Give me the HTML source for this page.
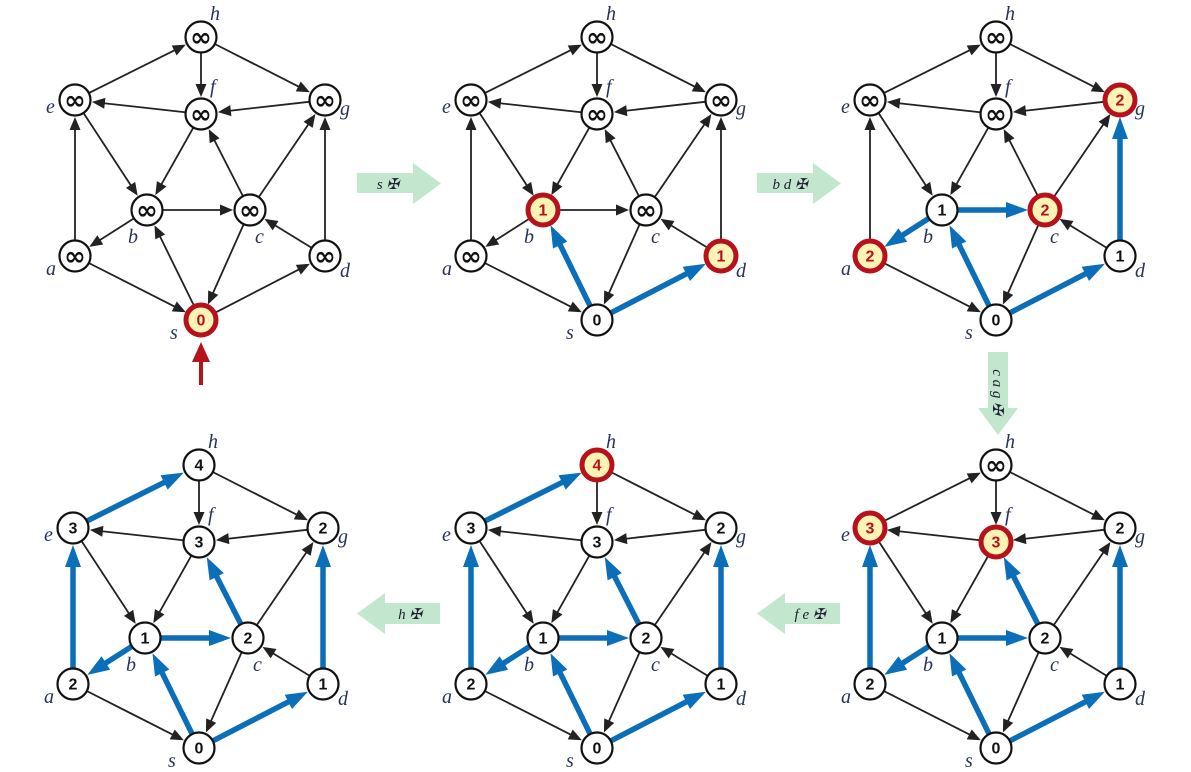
<!DOCTYPE html>
<html><head><meta charset="utf-8"><style>
body{margin:0;background:#fff}
svg{display:block}
.lbl{font-family:"Liberation Serif",serif;font-style:italic;font-size:20px;fill:#28345a}
.val{font-family:"Liberation Sans",sans-serif;font-weight:bold;text-anchor:middle;dominant-baseline:central}
.gl{font-family:"Liberation Serif","DejaVu Serif",serif;font-style:italic;font-size:15px;fill:#223}
</style></head><body>
<svg id="s" width="1191" height="772" viewBox="0 0 1191 772" xmlns="http://www.w3.org/2000/svg">
<polygon points="357,173 413,173 413,163 441,183.5 413,204 413,193 357,193" fill="#c3e6cf"/>
<text class="gl" x="388" y="189" text-anchor="middle">s ✠</text>
<polygon points="757,173 813,173 813,163 841,183.5 813,204 813,193 757,193" fill="#c3e6cf"/>
<text class="gl" x="790" y="189" text-anchor="middle">b d ✠</text>
<polygon points="988,352 1008,352 1008,408 1018,408 998,435 978,408 988,408" fill="#c3e6cf"/>
<text class="gl" transform="translate(993,392) rotate(90)" text-anchor="middle">c a g ✠</text>
<polygon points="840,603 785,603 785,593 757,613.5 785,634 785,624 840,624" fill="#c3e6cf"/>
<text class="gl" x="810" y="619" text-anchor="middle">f e ✠</text>
<polygon points="440,603 385,603 385,593 357,613.5 385,634 385,624 440,624" fill="#c3e6cf"/>
<text class="gl" x="410" y="619" text-anchor="middle">h ✠</text>
<line x1="201" y1="385" x2="201" y2="360" stroke="#b5121b" stroke-width="4"/>
<polygon points="192,362 210,362 201,342" fill="#b5121b"/>
<g id="g"></g>
</svg>
<script>
var NS="http://www.w3.org/2000/svg",G=document.getElementById('g');
function el(t,a,txt){var e=document.createElementNS(NS,t);for(var k in a)e.setAttribute(k,a[k]);if(txt!==undefined)e.textContent=txt;G.appendChild(e);return e;}
var P={h:[0,-283],e:[-126,-220],f:[0,-206],g:[124,-220],b:[-54,-110],c:[49,-110],a:[-126,-64],d:[124,-64],s:[0,0]};
var L={h:[14,-14],e:[-24,16],f:[14,-18],g:[20,18],b:[-14,36],c:[10,36],a:[-24,22],d:[20,24],s:[-26,22]};
var E=[['h','f'],['h','g'],['e','h'],['f','e'],['g','f'],['e','b'],['f','b'],['c','f'],['c','g'],['b','c'],['b','a'],['a','e'],['s','b'],['a','s'],['c','s'],['s','d'],['d','c'],['d','g']];
var I='∞';
function graph(ox,oy,vals,red,blue){
  var R=16;
  E.forEach(function(ed){
    var A=P[ed[0]],B=P[ed[1]];var x1=ox+A[0],y1=oy+A[1],x2=ox+B[0],y2=oy+B[1];
    var dx=x2-x1,dy=y2-y1,l=Math.hypot(dx,dy),ux=dx/l,uy=dy/l;
    var isB=blue.indexOf(ed.join(''))>=0;
    var sx=x1+ux*R,sy=y1+uy*R,tx=x2-ux*(R+1),ty=y2-uy*(R+1);
    var hl=isB?22:13,hw=isB?8:5.5,col=isB?'#0a6fb8':'#222',sw=isB?5.5:1.8;
    var bx=tx-ux*hl,by=ty-uy*hl;
    el('line',{x1:sx,y1:sy,x2:bx+ux*2,y2:by+uy*2,stroke:col,'stroke-width':sw});
    el('polygon',{points:tx+','+ty+' '+(bx-uy*hw)+','+(by+ux*hw)+' '+(bx+uy*hw)+','+(by-ux*hw),fill:col});
  });
  for(var n in P){
    var x=ox+P[n][0],y=oy+P[n][1],r=red.indexOf(n)>=0;
    el('circle',{cx:x,cy:y,r:r?15:15.5,fill:r?'#fdf3b4':'#fff',stroke:r?'#b5121b':'#111','stroke-width':r?5:2.2});
    var v=vals[n]===undefined?I:vals[n];
    if(v===I) el('text',{x:x,y:y+1,'class':'val',fill:'#111',style:'font-family:"DejaVu Sans",sans-serif;font-size:26px;font-weight:bold'},v);
    else el('text',{x:x,y:y+1,'class':'val',fill:r?'#b5121b':'#111',style:'font-size:16px'},v);
    el('text',{x:x+L[n][0]-5,y:y+L[n][1]-3,'class':'lbl'},n);
  }
}
graph(201,320,{s:'0'},['s'],[]);
graph(597,320,{s:'0',b:'1',d:'1'},['b','d'],['sb','sd']);
var v3={s:'0',b:'1',d:'1',a:'2',c:'2',g:'2'};
graph(996,320,v3,['a','c','g'],['sb','sd','ba','bc','dg']);
var v6={s:'0',b:'1',d:'1',a:'2',c:'2',g:'2',e:'3',f:'3'};
graph(996,748,v6,['e','f'],['sb','sd','ba','bc','dg','ae','cf']);
var v5={s:'0',b:'1',d:'1',a:'2',c:'2',g:'2',e:'3',f:'3',h:'4'};
graph(597,748,v5,['h'],['sb','sd','ba','bc','dg','ae','cf','eh']);
graph(199,748,v5,[],['sb','sd','ba','bc','dg','ae','cf','eh']);
</script>
</body></html>
